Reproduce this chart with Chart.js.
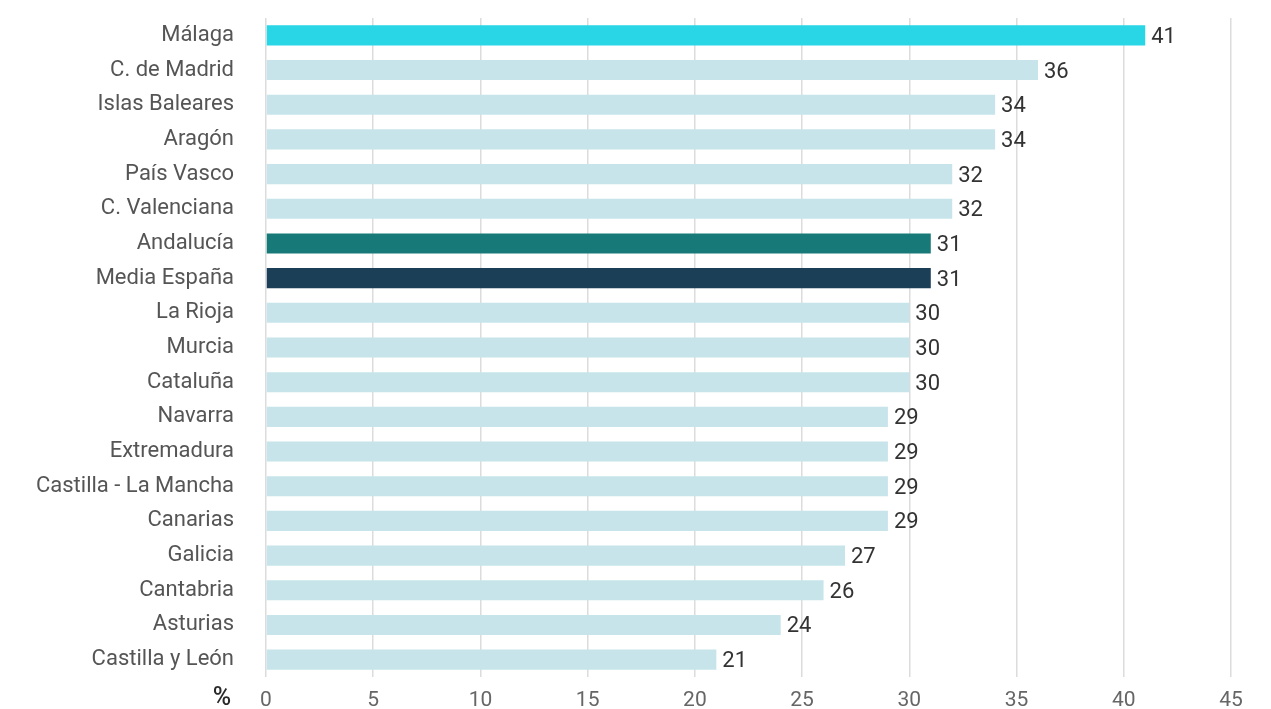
<!DOCTYPE html>
<html>
<head>
<meta charset="utf-8">
<script src="https://cdn.jsdelivr.net/npm/chart.js@4"></script>
<style>
  html, body { margin: 0; padding: 0; background: #fff; }
  #wrap { width: 1271px; height: 709px; position: relative; }
</style>
</head>
<body>
<div id="wrap"><canvas id="barChart"></canvas></div>
<script>
// data
const regions = ["Málaga", "C. de Madrid", "Islas Baleares", "Aragón", "País Vasco", "C. Valenciana",
    "Andalucía", "Media España", "La Rioja", "Murcia", "Cataluña", "Navarra", "Extremadura",
    "Castilla - La Mancha", "Canarias", "Galicia", "Cantabria", "Asturias", "Castilla y León"];
const values = [41, 36, 34, 34, 32, 32, 31, 31, 30, 30, 30, 29, 29, 29, 29, 27, 26, 24, 21];
const xTicks = [0, 5, 10, 15, 20, 25, 30, 35, 40, 45];

const highlight = {
    "Málaga": "#29d6e6",
    "Andalucía": "#177a78",
    "Media España": "#1c3f58"
};
const baseColor = "#c6e4ea";

// draws the number at the end of each bar and the "%" next to the x ticks
const labelPlugin = {
    id: "barLabels",
    afterDatasetsDraw(chart) {
        const ctx = chart.ctx;
        const meta = chart.getDatasetMeta(0);
        ctx.save();
        ctx.font = "22px Roboto";
        ctx.fillStyle = "#333";
        ctx.textBaseline = "middle";
        ctx.textAlign = "left";
        meta.data.forEach((bar, i) => {
            ctx.fillText(values[i], bar.x + 6, bar.y + 2);
        });
        const xs = chart.scales.x;
        ctx.font = "500 25px Roboto";
        ctx.fillStyle = "#2a2a2a";
        ctx.textAlign = "center";
        ctx.fillText("%", 222, xs.top + 22);
        ctx.restore();
    }
};

new Chart(document.getElementById("barChart"), {
    type: "bar",
    data: {
        labels: regions,
        datasets: [{
            data: values,
            backgroundColor: regions.map(r => highlight[r] || baseColor),
            borderWidth: 0,
            barPercentage: 0.58,
            categoryPercentage: 1
        }]
    },
    options: {
        indexAxis: "y",
        responsive: true,
        maintainAspectRatio: false,
        animation: false,
        layout: { padding: { top: 18, right: 40, left: 0, bottom: 0 } },
        plugins: {
            legend: { display: false },
            tooltip: { enabled: false }
        },
        scales: {
            x: {
                min: 0,
                max: 45,
                afterBuildTicks: s => { s.ticks = xTicks.map(v => ({ value: v })); },
                afterFit: s => { s.height = 32; },
                border: { display: false },
                grid: { color: "#dcdcdc", drawTicks: false, lineWidth: 1.5 },
                ticks: { color: "#666", font: { size: 21, family: "Roboto" }, padding: 11 }
            },
            y: {
                // fixed width, and no extra top/bottom room from the tick padding
                afterFit: s => { s.width = 266; s.paddingTop = 0; s.paddingBottom = 0; },
                border: { display: false },
                grid: { display: false, drawTicks: false },
                ticks: { color: "#555", font: { size: 22, family: "Roboto" }, padding: 32, autoSkip: false }
            }
        }
    },
    plugins: [labelPlugin]
});
</script>
</body>
</html>
